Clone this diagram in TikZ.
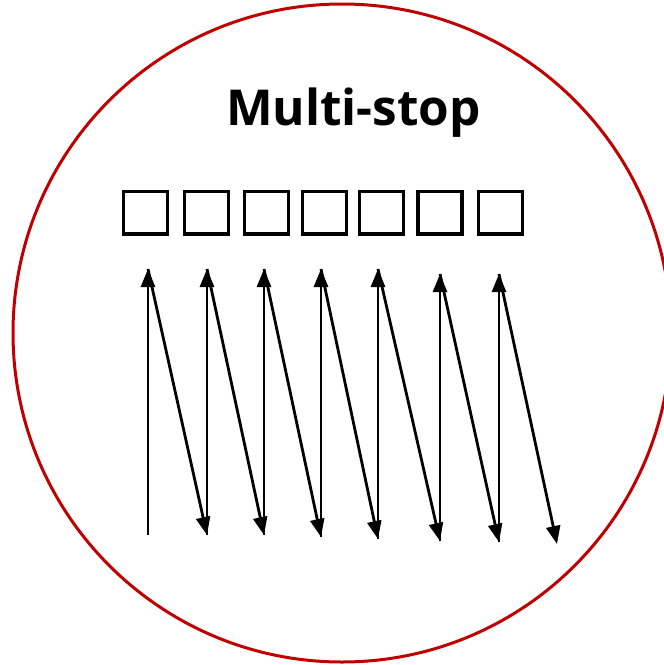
\documentclass[tikz,border=0pt]{standalone}
\usepackage{fontspec}
\setmainfont{Open Sans}
\newfontfamily\titlefont{Open Sans}[UprightFont=*-Bold]
\usetikzlibrary{arrows.meta}
\definecolor{ringred}{HTML}{C00000}
\begin{document}
\begin{tikzpicture}[x=1pt,y=-1pt,
  ring/.style={draw=ringred,line width=3pt},
  box/.style={draw=black,line width=3.2pt,minimum width=44pt,minimum height=42.5pt,inner sep=0pt},
  shaft/.style={line width=2.8pt},
  upar/.style={shaft,-{Triangle[length=18pt,width=14pt]}},
  title/.style={font=\titlefont\fontsize{49.5}{55}\selectfont,anchor=base,inner sep=0pt}]
\useasboundingbox (0,0) rectangle (664,665);
\draw[ring] (342,333) circle (329);
\node[title] (t) at (353.5,125) {Multi-stop};
\foreach \i/\x in {1/145.8,2/206.5,3/266.3,4/324.2,5/381.8,6/440,7/500.8}
  \node[box] (s\i) at (\x,212.7) {};
% tops and bottoms
\coordinate (t1) at (148,269);
\coordinate (t2) at (207,269);
\coordinate (t3) at (264,269);
\coordinate (t4) at (321,269);
\coordinate (t5) at (378,269);
\coordinate (t6) at (440,274);
\coordinate (t7) at (499,274);
\coordinate (b1) at (148,535);
\coordinate (b2) at (207,535);
\coordinate (b3) at (264,535);
\coordinate (b4) at (321,537);
\coordinate (b5) at (378,539);
\coordinate (b6) at (440,541);
\coordinate (b7) at (499,542);
\coordinate (b8) at (557,544);
\foreach \i in {1,...,7} \draw[upar] (b\i) -- (t\i);
\foreach \i/\j in {1/2,2/3,3/4,4/5,5/6,6/7,7/8} \draw[upar] (t\i) -- (b\j);
\end{tikzpicture}
\end{document}
